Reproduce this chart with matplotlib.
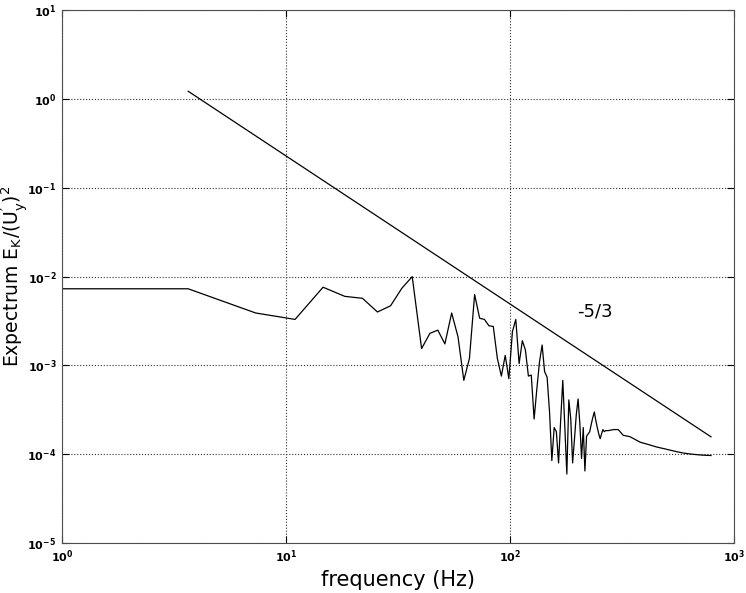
import numpy as np
import matplotlib
matplotlib.use('Agg')
import matplotlib.pyplot as plt

# spectrum (Hz, E_K/(U'_y)^2)
freq = [0.5, 3.66, 7.32, 10.98, 14.64, 18.3, 21.96, 25.6, 29.3, 32.9, 36.6,
        40.3, 43.9, 47.6, 51.2, 54.9, 58.6, 62.2, 65.9, 69.5, 73.2,
        76.9, 80.5, 84.2, 87.8, 91.5, 95.2, 98.8, 102.5, 106.1, 109.8,
        113.5, 117.1, 120.8, 124.4, 128.1, 131.8, 135.4, 139.1, 142.7, 146.4,
        150.1, 153.7, 157.4, 161.0, 164.7, 168.4, 172.0, 175.7, 179.3, 183.0,
        186.7, 190.3, 194.0, 197.6, 201.3, 205.0, 208.6, 212.3, 215.9, 219.6,
        223.3, 226.9, 230.6, 234.2, 237.9, 241.6, 245.2, 248.9, 252.5, 256.2,
        259.9, 263.5, 267.2, 275, 290, 304, 320, 343, 360, 381,
        410, 451, 500, 555, 600, 658, 720, 789]
spec = [7.3e-3, 7.3e-3, 3.9e-3, 3.3e-3, 7.6e-3, 6.0e-3, 5.7e-3, 4.0e-3, 4.7e-3, 7.4e-3, 1.0e-2,
        1.55e-3, 2.3e-3, 2.5e-3, 1.75e-3, 3.9e-3, 2.1e-3, 6.8e-4, 1.2e-3, 6.3e-3, 3.4e-3,
        3.3e-3, 2.8e-3, 2.75e-3, 1.2e-3, 7.6e-4, 1.3e-3, 7.1e-4, 2.4e-3, 3.3e-3, 1.05e-3,
        1.9e-3, 1.5e-3, 7.6e-4, 7.8e-4, 2.5e-4, 5.5e-4, 1.1e-3, 1.7e-3, 8.5e-4, 7.4e-4,
        3.0e-4, 8.5e-5, 2.0e-4, 1.8e-4, 8.0e-5, 2.5e-4, 6.8e-4, 2.0e-4, 6.0e-5, 4.1e-4,
        2.5e-4, 8.0e-5, 1.5e-4, 2.8e-4, 4.2e-4, 2.2e-4, 9.0e-5, 2.0e-4, 6.5e-5, 1.6e-4,
        1.7e-4, 1.8e-4, 2.2e-4, 2.6e-4, 3.0e-4, 2.4e-4, 2.0e-4, 1.7e-4, 1.5e-4, 1.7e-4,
        1.9e-4, 1.8e-4, 1.85e-4, 1.85e-4, 1.9e-4, 1.9e-4, 1.64e-4, 1.58e-4, 1.48e-4, 1.37e-4,
        1.3e-4, 1.21e-4, 1.14e-4, 1.07e-4, 1.03e-4, 1.0e-4, 9.8e-5, 9.7e-5]

# -5/3 reference line end points
ref_x = [3.66, 789]
ref_y = [1.22, 1.22 * (789 / 3.66) ** (-5 / 3)]


def main():
    fig = plt.figure(figsize=(7.46, 5.93), dpi=100)
    ax = fig.add_axes([0.083, 0.084, 0.901, 0.899])

    ax.loglog(freq, spec, color='black', linewidth=0.9)
    ax.loglog(ref_x, ref_y, color='black', linewidth=0.9)

    ax.set_xlim(1, 1000)
    ax.set_ylim(1e-5, 10)
    ax.grid(True, which='major', linestyle=':', color='0.2', linewidth=0.8)
    ax.minorticks_off()
    ax.tick_params(which='major', direction='in', length=5, top=True, right=True,
                   labelsize=8, pad=4)
    for lab in ax.get_xticklabels() + ax.get_yticklabels():
        lab.set_fontweight('bold')
    for sp in ax.spines.values():
        sp.set_color('0.3')

    ax.text(200, 4.0e-3, '-5/3', fontsize=13, va='center')
    ax.set_xlabel('frequency (Hz)', fontsize=15, labelpad=3)
    ax.set_ylabel(r"Expectrum $\mathregular{E_K/(U_y^{\prime})^2}$", fontsize=13.5)
    ax.yaxis.set_label_coords(-0.048, 0.5)

    fig.savefig('out.png', dpi=100)


if __name__ == '__main__':
    main()
